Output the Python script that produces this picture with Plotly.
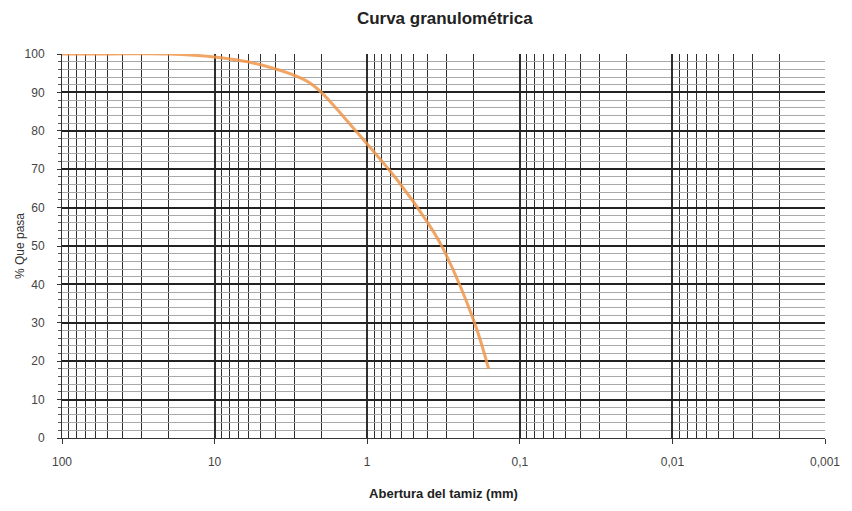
import plotly.graph_objects as go

# Data
abertura_mm = [100, 50, 20, 10, 5, 2.5, 2, 1.25, 0.63, 0.4, 0.32, 0.2, 0.16]
pct_pasa = [100, 100, 100, 99.2, 97.2, 93, 90, 81, 67, 56, 49.5, 30.5, 18]

x_tick_vals = [100, 10, 1, 0.1, 0.01, 0.001]
x_tick_text = ["100", "10", "1", "0,1", "0,01", "0,001"]
y_tick_vals = [0, 10, 20, 30, 40, 50, 60, 70, 80, 90, 100]

# minor vertical grid positions (2..9 x 10^k)
minor_x = []
for e in [-3, -2, -1, 0, 1]:
    for m in range(2, 10):
        minor_x.append(round(m * 10 ** e, 6))

FONT = "Liberation Sans, Arial, sans-serif"

fig = go.Figure()
fig.add_trace(go.Scatter(
    x=abertura_mm, y=pct_pasa, mode="lines",
    line=dict(color="rgba(238,150,75,0.85)", width=3, shape="spline", smoothing=1.0),
    showlegend=False, hoverinfo="x+y",
))

fig.update_layout(
    width=852, height=511,
    margin=dict(l=62, r=24, t=54, b=73),
    paper_bgcolor="white", plot_bgcolor="white",
    font=dict(family=FONT, size=12, color="#333333"),
    title=dict(text="<b>Curva granulométrica</b>", x=0.522, xanchor="center",
               y=0.965, yanchor="middle",
               font=dict(family=FONT, size=17, color="#222222")),
    annotations=[dict(
        text="% Que pasa", textangle=-90, xref="paper", yref="paper",
        x=-0.055, y=0.5, xanchor="center", yanchor="middle", showarrow=False,
        font=dict(family=FONT, size=12, color="#333333"),
    )],
)

fig.update_xaxes(
    type="log", range=[2, -3],
    tickvals=x_tick_vals, ticktext=x_tick_text,
    showgrid=True, gridcolor="#2e2e2e", gridwidth=1.5,
    ticks="outside", ticklen=5, tickcolor="#333333",
    ticklabelstandoff=8,
    showline=True, linecolor="#333333", linewidth=1, mirror=False,
    tickfont=dict(size=12, color="#444444"),
    minor=dict(tickvals=minor_x, showgrid=True, gridcolor="#2e2e2e", gridwidth=1.4, ticks=""),
    title=dict(text="<b>Abertura del tamiz (mm)</b>", standoff=20,
               font=dict(size=13, color="#222222")),
    zeroline=False,
)

fig.update_yaxes(
    range=[0, 100], tickvals=y_tick_vals,
    showgrid=True, gridcolor="#222222", gridwidth=1.5,
    ticks="outside", ticklen=4, tickcolor="#333333",
    ticklabelstandoff=10,
    showline=True, linecolor="#333333", linewidth=1,
    tickfont=dict(size=12, color="#444444"),
    minor=dict(dtick=2, showgrid=True, gridcolor="#a8a8a8", gridwidth=1.2,
               ticks="outside", ticklen=3, tickcolor="#555555"),
    zeroline=False,
)

fig.write_html("out.html")
